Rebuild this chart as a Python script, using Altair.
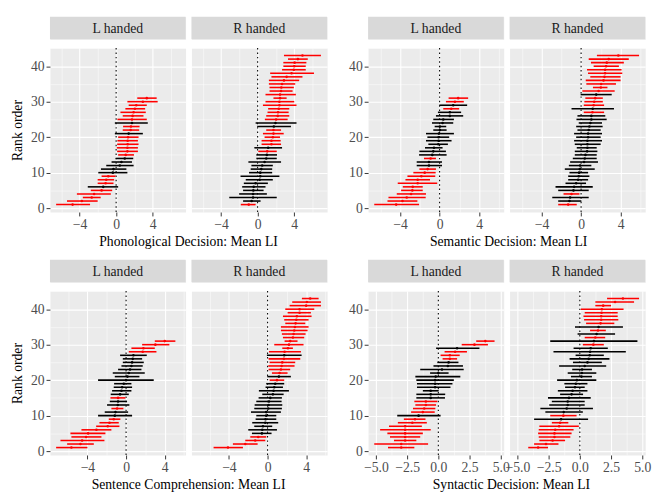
import altair as alt
import numpy as np
import pandas as pd

# ---------------- data ----------------
PHON_L_MEAN = [-4.76, -3.75, -2.67, -2.41, -1.59, -1.41, -1.15, -1.08, -0.86, -0.36, -0.29, 0.40, 0.58, 0.94, 1.05, 1.23, 1.23, 1.26, 1.26, 1.30, 1.37, 1.59, 1.62, 1.73, 1.73, 1.80, 1.91, 2.05, 2.20, 2.92, 3.35]
PHON_L_LO = [-6.56, -5.37, -3.64, -4.29, -2.77, -3.10, -2.02, -2.02, -1.59, -1.95, -1.66, -1.08, -0.50, -0.05, 0.22, 0.11, 0.07, 0.11, 0.14, 0.22, -0.14, 0.72, 0.76, -0.14, 0.14, 0.72, 0.47, 1.01, 1.37, 1.23, 2.31]
PHON_L_HI = [-2.85, -2.02, -1.69, -0.58, -0.43, 0.22, -0.29, -0.22, -0.07, 1.23, 1.12, 1.91, 1.73, 1.87, 1.95, 2.38, 2.38, 2.45, 2.38, 2.45, 2.92, 2.52, 2.56, 3.46, 3.35, 2.99, 3.24, 3.17, 3.35, 4.54, 4.43]

PHON_R_MEAN = [-0.97, -0.65, -0.50, -0.50, -0.47, -0.43, -0.22, 0.22, 0.29, 0.29, 0.40, 0.50, 0.76, 0.94, 1.01, 1.05, 1.15, 1.51, 1.51, 1.66, 1.73, 1.73, 1.77, 1.95, 2.02, 2.20, 2.23, 2.31, 2.38, 2.38, 2.45, 2.45, 2.56, 2.59, 2.67, 2.88, 3.17, 3.71, 3.96, 4.00, 4.04, 4.40, 4.90]
PHON_R_LO = [-1.84, -1.59, -3.10, -2.02, -1.59, -1.69, -1.51, -1.30, -1.87, -0.94, -0.76, -0.68, -1.01, -0.14, -0.14, 0.07, -0.36, 0.43, 0.43, 0.76, 0.58, 0.94, -0.05, -0.22, 0.79, 0.94, 1.08, 1.15, 0.58, 0.86, 1.73, 0.86, 1.30, 1.30, 1.23, 1.23, 1.51, 1.37, 2.67, 2.81, 2.81, 3.32, 2.88]
PHON_R_HI = [-0.22, 0.32, 2.09, 1.01, 0.65, 0.86, 1.12, 1.66, 2.38, 1.59, 1.59, 1.66, 2.56, 2.09, 2.12, 2.09, 2.67, 2.56, 2.52, 2.45, 2.85, 2.56, 3.64, 4.25, 3.28, 3.46, 3.39, 3.46, 4.25, 4.00, 3.17, 4.18, 3.82, 3.96, 4.11, 4.54, 4.90, 6.16, 5.26, 5.26, 5.33, 5.48, 6.92]

SEM_L_MEAN = [-4.40, -3.76, -3.33, -2.89, -2.76, -2.72, -2.22, -2.22, -1.85, -1.51, -1.21, -1.08, -1.08, -0.91, -0.74, -0.64, -0.57, -0.13, -0.10, -0.10, -0.07, 0.03, 0.03, 0.30, 0.37, 1.04, 1.04, 1.18, 1.38, 1.55, 1.88]
SEM_L_LO = [-6.62, -5.28, -5.18, -4.34, -3.90, -3.73, -4.24, -3.46, -3.26, -2.66, -2.05, -2.32, -2.32, -1.58, -2.08, -2.05, -1.48, -1.14, -1.38, -1.24, -1.38, -0.64, -0.50, -0.77, -0.64, -0.37, -0.17, 0.37, -0.03, 0.64, 0.91]
SEM_L_HI = [-2.08, -2.25, -1.41, -1.38, -1.71, -1.71, -0.24, -0.97, -0.44, -0.40, -0.37, 0.24, 0.24, -0.37, 0.71, 0.64, 0.30, 0.84, 1.21, 0.97, 1.45, 0.71, 0.67, 1.38, 1.45, 2.39, 2.18, 1.98, 2.79, 2.45, 2.89]

SEM_R_MEAN = [-1.31, -1.18, -1.11, -0.97, -0.77, -0.71, -0.50, -0.30, -0.24, -0.20, -0.13, -0.10, 0.30, 0.37, 0.44, 0.61, 0.64, 0.64, 0.64, 0.71, 0.71, 0.77, 0.84, 0.94, 1.04, 1.04, 1.15, 1.18, 1.27, 1.33, 1.43, 1.53, 1.77, 2.00, 2.03, 2.27, 2.37, 2.43, 2.43, 2.53, 2.60, 2.80, 3.77]
SEM_R_LO = [-2.32, -2.32, -2.92, -1.78, -2.32, -2.59, -1.58, -1.31, -1.31, -1.18, -1.65, -1.24, -1.11, -0.84, -0.64, -0.64, -0.44, -0.64, -0.71, -0.50, -0.71, -0.37, -0.50, -0.24, -0.47, -0.37, 0.27, -0.97, 0.27, 0.33, 0.43, -0.05, 0.13, 1.20, 0.53, 0.47, 0.93, 0.70, 0.60, 1.27, 1.00, 0.77, 1.60]
SEM_R_HI = [-0.44, 0.03, 0.77, -0.17, 0.77, 1.18, 0.50, 0.71, 0.84, 0.71, 1.38, 1.04, 1.71, 1.58, 1.58, 1.65, 1.58, 1.98, 2.12, 1.98, 2.12, 1.98, 2.18, 2.12, 2.59, 2.45, 2.33, 3.33, 2.33, 2.20, 2.20, 3.10, 3.40, 2.67, 3.53, 4.00, 4.00, 4.17, 4.10, 3.83, 4.33, 4.83, 5.87]

SENT_L_MEAN = [-5.66, -4.72, -4.55, -4.14, -3.93, -3.07, -1.90, -1.72, -1.28, -1.17, -1.10, -0.93, -0.86, -0.83, -0.83, -0.62, -0.48, -0.41, -0.24, 0.00, 0.14, 0.28, 0.41, 0.55, 0.62, 0.69, 0.76, 1.72, 1.79, 3.03, 4.00]
SENT_L_LO = [-7.24, -6.10, -6.79, -5.66, -5.76, -4.62, -3.10, -2.76, -1.79, -2.90, -2.21, -1.52, -1.97, -1.69, -1.62, -1.59, -1.45, -1.28, -1.24, -2.90, -1.17, -1.38, -0.83, -0.48, -0.34, -0.34, -0.62, 0.28, 0.55, 1.66, 2.97]
SENT_L_HI = [-4.00, -3.34, -2.24, -2.55, -2.14, -1.52, -0.69, -0.76, -0.59, 0.62, 0.21, -0.28, 0.34, 0.10, -0.07, 0.28, 0.55, 0.62, 0.55, 2.86, 1.38, 1.93, 1.59, 1.72, 1.83, 1.66, 2.14, 3.14, 2.97, 4.48, 5.10]

SENT_R_MEAN = [-4.10, -2.31, -1.28, -0.97, -0.59, -0.55, -0.48, -0.24, -0.21, -0.14, -0.14, 0.07, 0.10, 0.14, 0.28, 0.55, 0.62, 0.69, 0.79, 0.97, 1.17, 1.24, 1.38, 1.45, 1.52, 1.69, 1.72, 1.76, 2.10, 2.21, 2.34, 2.62, 2.69, 2.76, 2.83, 2.90, 2.97, 3.03, 3.31, 3.31, 4.00, 4.07, 4.41]
SENT_R_LO = [-5.59, -3.59, -2.31, -1.79, -1.62, -2.00, -1.38, -1.59, -1.24, -1.17, -1.72, -1.38, -1.34, -1.17, -0.93, -0.55, -0.90, -0.21, -0.14, 0.21, -0.03, 0.45, 0.10, 0.07, 0.21, 0.10, -0.07, 0.14, 1.52, 0.69, 1.76, 1.59, 1.48, 1.38, 1.38, 1.83, 1.72, 1.59, 2.07, 1.83, 2.28, 2.55, 3.55]
SENT_R_HI = [-2.55, -1.03, -0.24, -0.14, 0.41, 0.97, 0.48, 1.10, 0.90, 0.90, 1.38, 1.48, 1.52, 1.45, 1.48, 1.66, 2.21, 1.59, 1.72, 1.72, 2.41, 2.07, 2.34, 2.79, 2.86, 3.38, 3.52, 3.45, 2.62, 3.72, 3.10, 3.79, 3.93, 4.14, 4.24, 3.90, 4.24, 4.55, 4.48, 4.83, 5.52, 5.52, 5.28]

SYN_L_MEAN = [-2.97, -2.97, -2.66, -2.66, -2.66, -2.66, -2.66, -2.08, -1.87, -1.58, -1.24, -1.13, -1.00, -1.00, -0.61, -0.61, -0.61, -0.26, -0.26, -0.26, -0.21, 0.00, 0.29, 0.76, 0.82, 0.92, 0.92, 1.34, 1.50, 2.89, 3.76]
SYN_L_LO = [-4.03, -5.13, -3.55, -3.87, -4.08, -4.66, -3.95, -3.24, -2.76, -3.29, -2.18, -2.03, -1.84, -1.92, -1.76, -1.76, -1.24, -1.71, -1.71, -1.76, -1.84, -0.66, -1.45, -0.39, -0.08, 0.34, 0.18, 0.50, -0.18, 1.87, 3.03]
SYN_L_HI = [-1.92, -0.82, -1.76, -1.45, -1.24, -0.61, -1.32, -0.92, -1.03, 0.18, -0.29, -0.24, -0.18, -0.08, 0.53, 0.55, 0.03, 0.97, 1.13, 1.24, 1.76, 0.82, 2.03, 1.97, 1.61, 1.50, 1.71, 2.29, 3.29, 3.97, 4.50]

SYN_R_MEAN = [-3.34, -2.71, -2.18, -2.03, -2.03, -1.97, -1.66, -1.58, -1.50, -1.32, -1.29, -1.05, -0.97, -0.97, -0.87, -0.66, -0.58, -0.39, -0.32, -0.24, 0.13, 0.16, 0.18, 0.39, 0.61, 0.71, 0.79, 0.82, 0.87, 1.08, 1.13, 1.24, 1.34, 1.45, 1.50, 1.66, 1.71, 1.71, 1.74, 1.76, 1.87, 2.82, 3.45]
SYN_R_LO = [-4.13, -3.66, -3.24, -3.29, -3.34, -3.29, -3.24, -2.24, -3.66, -2.37, -2.76, -3.16, -2.45, -2.24, -2.55, -1.58, -1.76, -1.18, -1.24, -1.82, -0.71, -0.97, -0.61, -1.66, -0.55, -0.82, -0.34, -2.11, -0.50, 0.24, -2.37, 0.39, -0.18, 0.82, -0.39, 0.50, 0.34, 0.29, 0.39, 0.08, 1.24, 1.24, 2.18]
SYN_R_HI = [-2.55, -1.71, -1.18, -0.76, -0.66, -0.50, -0.08, -0.92, 0.66, -0.26, 0.24, 1.05, 0.39, 0.39, 0.87, 0.26, 0.61, 0.39, 0.61, 1.32, 0.97, 1.32, 0.97, 2.11, 1.76, 2.37, 1.92, 3.68, 2.24, 1.92, 4.61, 2.03, 2.82, 2.08, 3.45, 2.76, 3.08, 3.03, 3.03, 3.50, 2.50, 4.34, 4.74]

HANDS = ["L handed", "R handed"]
TITLES = ["Phonological Decision: Mean LI", "Semantic Decision: Mean LI",
          "Sentence Comprehension: Mean LI", "Syntactic Decision: Mean LI"]

# ---------------- styling ----------------
FONT = "Liberation Serif, Times New Roman, Times, serif"
RED = "#FF0000"
W, H, SH = 139, 168, 23
GAP = 6


def build_df(mean, lo, hi):
    df = pd.DataFrame({"rank": np.arange(1, len(mean) + 1), "mean": mean, "lo": lo, "hi": hi})
    df["sig"] = np.where((df["lo"] > 0) | (df["hi"] < 0), "sig", "ns")
    return df


def strip(label):
    base = alt.Chart(pd.DataFrame({"label": [label]}))
    rect = base.mark_rect(color="#D9D9D9").encode(
        x=alt.value(0), x2=alt.value(W), y=alt.value(0), y2=alt.value(SH))
    txt = base.mark_text(font=FONT, fontSize=14, color="#1A1A1A").encode(
        x=alt.value(W / 2), y=alt.value(SH / 2 + 1), text="label:N")
    return alt.layer(rect, txt).properties(width=W, height=SH)


def facet(df, xdom, xticks, major_test, fmt, ydom, ylabels, ytitle):
    yvals = list(range(0, 46, 5))
    ymajor = "datum.value % 10 == 0"
    xaxis = alt.Axis(
        values=xticks, title=None, domain=False, gridColor="white",
        gridWidth={"condition": {"test": major_test, "value": 1.1}, "value": 0.5},
        tickColor={"condition": {"test": major_test, "value": "#333333"}, "value": "transparent"},
        tickSize=4, labelExpr=f"({major_test}) ? format(datum.value, '{fmt}') : ''",
        labelFlush=False, labelPadding=2, labelOverlap=False)
    yk = dict(values=yvals, domain=False, gridColor="white",
              gridWidth={"condition": {"test": ymajor, "value": 1.1}, "value": 0.5})
    if ylabels:
        yk.update(tickColor={"condition": {"test": ymajor, "value": "#333333"}, "value": "transparent"},
                  tickSize=4, labelExpr=f"({ymajor}) ? datum.label : ''", labelPadding=2,
                  labelOverlap=False)
    else:
        yk.update(labels=False, ticks=False)
    if ytitle:
        yk.update(title=ytitle, titlePadding=6)
    else:
        yk.update(title=None)
    yaxis = alt.Axis(**yk)

    xs = alt.Scale(domain=xdom, nice=False, zero=False)
    ys = alt.Scale(domain=ydom, nice=False, zero=False)
    color = alt.Color("sig:N", scale=alt.Scale(domain=["sig", "ns"], range=[RED, "black"]), legend=None)

    base = alt.Chart(df)
    vline = alt.Chart(pd.DataFrame({"z": [0.0]})).mark_rule(
        color="black", strokeDash=[1.5, 3], strokeWidth=1.1).encode(
        x=alt.X("z:Q", scale=xs, axis=xaxis))
    bars = base.mark_rule(strokeWidth=1.6).encode(
        x=alt.X("lo:Q", scale=xs, axis=xaxis), x2="hi:Q",
        y=alt.Y("rank:Q", scale=ys, axis=yaxis), color=color)
    pts = base.mark_point(filled=True, size=7, opacity=1, shape="circle").encode(
        x=alt.X("mean:Q", scale=xs, axis=xaxis), y=alt.Y("rank:Q", scale=ys, axis=yaxis), color=color)
    return alt.layer(vline, bars, pts).properties(width=W, height=H)


def group(arrs, title, step, fmt, ytitle, dx):
    dfs = [build_df(*arrs[0]), build_df(*arrs[1])]
    lo = min(d["lo"].min() for d in dfs)
    hi = max(d["hi"].max() for d in dfs)
    ex = 0.05 * (hi - lo)
    xdom = [lo - ex, hi + ex]
    nmax = max(len(d) for d in dfs)
    yex = 0.05 * (nmax - 1)
    ydom = [1 - yex, nmax + yex]
    half = step / 2
    k0 = int(np.ceil(xdom[0] / half))
    k1 = int(np.floor(xdom[1] / half))
    xticks = [round(k * half, 4) for k in range(k0, k1 + 1)]
    major_test = f"abs(datum.value) % {step} < 1e-6"
    strips = [strip(h) for h in HANDS]
    panels = [facet(dfs[i], xdom, xticks, major_test, fmt, ydom, i == 0, ytitle if i == 0 else None)
              for i in range(2)]
    return alt.vconcat(
        alt.hconcat(*strips, spacing=GAP, bounds="flush"),
        alt.hconcat(*panels, spacing=GAP, bounds="flush"),
        spacing=0,
    ).properties(
        title=alt.TitleParams(title, orient="bottom", anchor="middle", font=FONT, fontSize=14,
                              fontWeight="normal", color="black", offset=3, dx=dx))


g1 = group([(PHON_L_MEAN, PHON_L_LO, PHON_L_HI), (PHON_R_MEAN, PHON_R_LO, PHON_R_HI)],
           TITLES[0], 4, "d", "Rank order", 20)
g2 = group([(SEM_L_MEAN, SEM_L_LO, SEM_L_HI), (SEM_R_MEAN, SEM_R_LO, SEM_R_HI)],
           TITLES[1], 4, "d", None, 12)
g3 = group([(SENT_L_MEAN, SENT_L_LO, SENT_L_HI), (SENT_R_MEAN, SENT_R_LO, SENT_R_HI)],
           TITLES[2], 4, "d", "Rank order", 20)
g4 = group([(SYN_L_MEAN, SYN_L_LO, SYN_L_HI), (SYN_R_MEAN, SYN_R_LO, SYN_R_HI)],
           TITLES[3], 2.5, ".1f", None, 12)

chart = alt.vconcat(
    alt.hconcat(g1, g2, spacing=20),
    alt.hconcat(g3, g4, spacing=20),
    spacing=10,
).properties(padding=2, background="white").configure_view(
    fill="#EBEBEB", stroke="transparent"
).configure_axis(
    labelFont=FONT, labelFontSize=14, labelColor="#4D4D4D",
    titleFont=FONT, titleFontSize=14, titleFontWeight="normal", titleColor="black"
)

chart.save("out.html", embed_options={"renderer": "svg", "actions": False})
